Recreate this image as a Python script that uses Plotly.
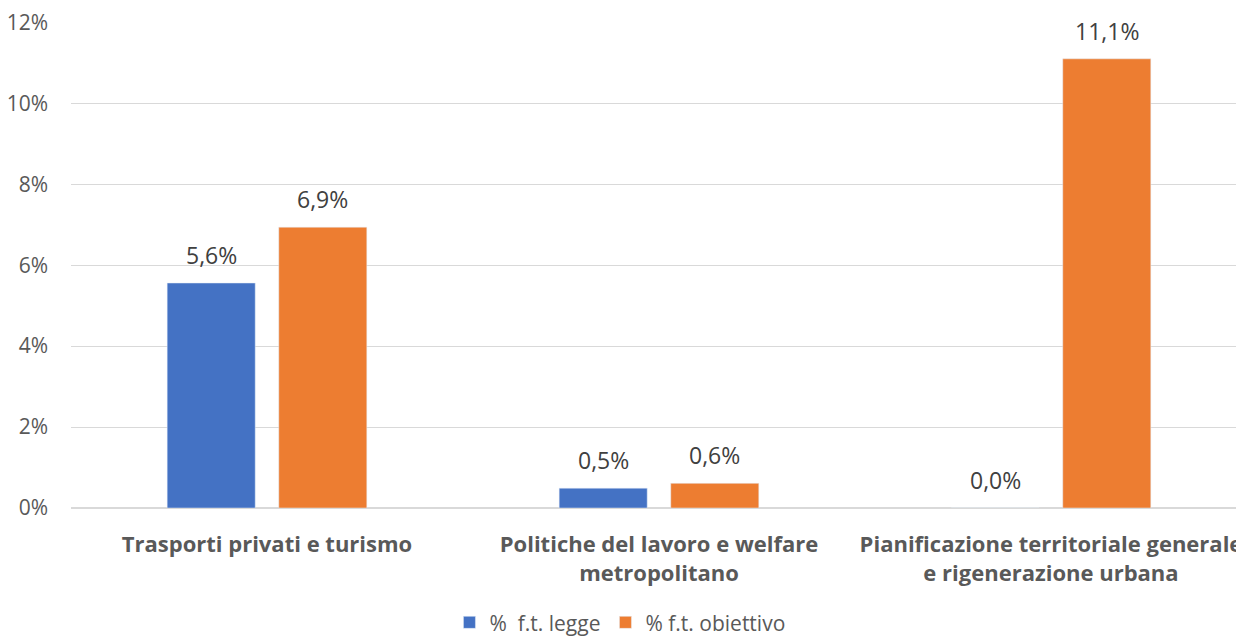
import plotly.graph_objects as go

categories = ["Trasporti privati e turismo",
              "Politiche del lavoro e welfare<br>metropolitano",
              "Pianificazione territoriale generale<br>e rigenerazione urbana"]
series_names = ["%  f.t. legge", "% f.t. obiettivo"]
legge = [0.0556, 0.0049, 0.0]
obiettivo = [0.0694, 0.0061, 0.111]
tick_vals = [0, 0.02, 0.04, 0.06, 0.08, 0.10, 0.12]
tick_text = ["0%", "2%", "4%", "6%", "8%", "10%", "12%"]

colors = ["#4472C4", "#ED7D31"]
gray = "#595959"
FONT = "Open Sans"

W, H = 1236, 639
ML, MR, MT, MB = 71, 0, 22, 131
BARGAP = 0.4306
X_RANGE = [-0.5, 2.472]

fig = go.Figure()
for name, vals, col in zip(series_names, [legge, obiettivo], colors):
    fig.add_trace(go.Bar(x=categories, y=vals, name=name, marker_color=col))

# data labels placed over each bar
cat_px = (W - ML - MR) / (X_RANGE[1] - X_RANGE[0])
off = (1 - BARGAP) * cat_px / 4
for k, vals in enumerate([legge, obiettivo]):
    shift = -off if k == 0 else off
    for c, v in zip(categories, vals):
        fig.add_annotation(x=c, y=v, text=f"{v*100:.1f}%".replace(".", ","),
                           showarrow=False, xshift=shift, yshift=10,
                           yanchor="bottom", xanchor="center",
                           font=dict(size=23, color="#404040", family=FONT))

fig.update_layout(
    width=W, height=H,
    barmode="group", bargap=BARGAP, bargroupgap=0.211,
    plot_bgcolor="white", paper_bgcolor="white",
    margin=dict(l=ML, r=MR, t=MT, b=MB, autoexpand=False),
    font=dict(family=FONT, color=gray),
    legend=dict(orientation="h", x=0.4712, xanchor="center", y=-0.236, yanchor="middle",
                font=dict(size=21, color=gray, family=FONT), traceorder="normal"),
    showlegend=True,
)
fig.update_yaxes(range=[0, 0.1201], tickvals=tick_vals, ticktext=tick_text,
                 showgrid=True, gridcolor="#D9D9D9", gridwidth=1,
                 zeroline=True, zerolinecolor="#D9D9D9",
                 tickfont=dict(size=21, color=gray, family=FONT), ticks="",
                 automargin=False, ticklabelstandoff=22)
fig.update_xaxes(showline=False, tickfont=dict(size=22, color=gray, family=FONT),
                 ticks="", automargin=False, ticklabelstandoff=21,
                 range=X_RANGE,
                 ticktext=["<b>" + c + "</b>" for c in categories], tickvals=categories)

fig.write_html("out.html", config={"displayModeBar": False},
               post_script="document.body.style.margin='0';document.body.style.overflow='hidden';")
